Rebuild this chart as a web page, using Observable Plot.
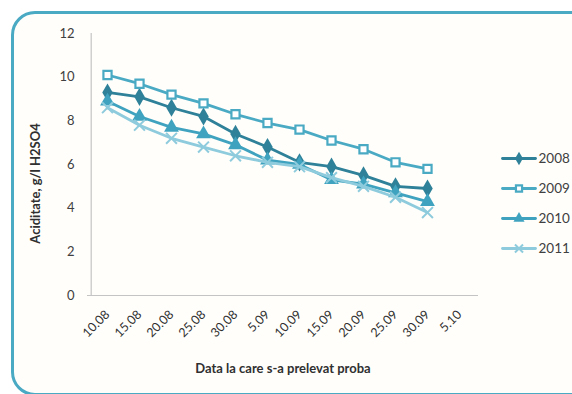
<!DOCTYPE html>
<html>
<head>
<meta charset="utf-8">
<script src="https://cdn.jsdelivr.net/npm/d3@7"></script>
<script src="https://cdn.jsdelivr.net/npm/@observablehq/plot@0.6"></script>
<style>
  body { margin: 0; background: #ffffff; }
  #wrap { position: relative; width: 572px; height: 394px; overflow: hidden; background: #ffffff; font-family: Lato, "Open Sans", sans-serif; }
  #frame { position: absolute; left: 11px; top: 11px; width: 640px; height: 379px; border: 3px solid #4aa9c3; border-radius: 24px; background: #fffefb; }
  #chart { position: absolute; left: 0; top: 0; }
  #legend { position: absolute; left: 500px; top: 143px; }
</style>
</head>
<body>
<div id="wrap">
  <div id="frame"></div>
  <div id="chart"></div>
  <div id="legend"></div>
</div>
<script>
// Sampling dates (the last one has no measurements)
const dates = ["10.08", "15.08", "20.08", "25.08", "30.08", "5.09", "10.09", "15.09", "20.09", "25.09", "30.09", "5.10"];

// Acidity, g/l H2SO4, one array per harvest year
const years = ["2008", "2009", "2010", "2011"];
const acid2008 = [9.3, 9.1, 8.6, 8.2, 7.4, 6.8, 6.1, 5.9, 5.5, 5.0, 4.9];
const acid2009 = [10.1, 9.7, 9.2, 8.8, 8.3, 7.9, 7.6, 7.1, 6.7, 6.1, 5.8];
const acid2010 = [8.9, 8.2, 7.7, 7.4, 6.9, 6.2, 6.0, 5.3, 5.1, 4.7, 4.3];
const acid2011 = [8.6, 7.8, 7.2, 6.8, 6.4, 6.1, 5.9, 5.4, 5.0, 4.5, 3.8];
const yTicks = [0, 2, 4, 6, 8, 10, 12];

const seriesValues = { "2008": acid2008, "2009": acid2009, "2010": acid2010, "2011": acid2011 };

// Per-series look: line colour, marker symbol and marker fill
const style = {
  "2008": { color: "#2e8198", symbol: "diamond", fill: "#2e8198", r: 5.5 },
  "2009": { color: "#4aaac4", symbol: "square", fill: "#ffffff", r: 4.6 },
  "2010": { color: "#3fa3bf", symbol: "triangle", fill: "#3fa3bf", r: 5.5 },
  "2011": { color: "#8ecbdc", symbol: "times", fill: "none", r: 5 }
};

const rows = years.flatMap(year =>
  seriesValues[year].map((v, i) => ({ year, date: dates[i], value: v }))
);

function dotMark(data, xKey, yKey, year, scale) {
  const s = style[year];
  const r = s.r * scale;
  if (s.symbol === "times") {
    return Plot.dot(data, { x: xKey, y: yKey, symbol: "times", r, stroke: s.color, strokeWidth: 2 });
  } else if (s.symbol === "square") {
    return Plot.dot(data, { x: xKey, y: yKey, symbol: "square", r, fill: s.fill, stroke: s.color, strokeWidth: 2.2 });
  }
  return Plot.dot(data, { x: xKey, y: yKey, symbol: s.symbol, r, fill: s.fill, stroke: "none" });
}

const seriesMarks = years.flatMap(year => {
  const d = rows.filter(r => r.year === year);
  return [
    Plot.line(d, { x: "date", y: "value", stroke: style[year].color, strokeWidth: 2.8 }),
    dotMark(d, "date", "value", year, 1)
  ];
});

const chart = Plot.plot({
  width: 572,
  height: 394,
  marginLeft: 87,
  marginRight: 94,
  marginTop: 33,
  marginBottom: 99,
  style: { background: "transparent", fontFamily: "Lato, 'Open Sans', sans-serif", color: "#404040" },
  x: { type: "point", domain: dates, padding: 0.5 },
  y: { domain: [0, 12] },
  marks: [
    Plot.axisY({ ticks: yTicks, tickSize: 0, tickPadding: 13, fontSize: 13, label: "Aciditate, g/l H2SO4", labelArrow: "none", labelAnchor: "center", labelOffset: 57 }),
    Plot.axisX({ tickSize: 0, tickPadding: 17, tickRotate: -45, fontSize: 12.5, label: "Data la care s-a prelevat proba", labelArrow: "none", labelAnchor: "center", labelOffset: 77 }),
    Plot.ruleX([dates[0]], { y1: 0, y2: 12, stroke: "#c4c4c4", strokeWidth: 1.2, dx: -16.3 }),
    Plot.ruleY([0], { stroke: "#c4c4c4", strokeWidth: 1.2 }),
    ...seriesMarks
  ]
});
d3.select(chart).selectAll("[aria-label='y-axis label'] text, [aria-label='x-axis label'] text")
  .style("font-weight", "bold").style("font-size", "13px").attr("fill", "#303030");
// the vertical title sits a little below the middle of the axis
d3.select(chart).selectAll("[aria-label='y-axis label'] text").attr("dx", -19);
d3.select(chart).selectAll("[aria-label='x-axis tick label'] text").attr("fill", "#303030");
document.getElementById("chart").append(chart);

// Legend: a short line sample with the series marker, then the year
const legendRows = years.flatMap(year => [0, 0.5, 1].map(t => ({ year, t })));
const legend = Plot.plot({
  width: 72,
  height: 120,
  marginLeft: 2,
  marginRight: 37,
  marginTop: 15,
  marginBottom: 15,
  style: { background: "transparent", fontFamily: "Lato, 'Open Sans', sans-serif" },
  x: { domain: [0, 1], axis: null },
  y: { type: "point", domain: years, padding: 0, axis: null },
  marks: [
    ...years.map(year => Plot.line(legendRows.filter(r => r.year === year), { x: "t", y: "year", stroke: style[year].color, strokeWidth: 2.8 })),
    ...years.map(year => dotMark(legendRows.filter(r => r.year === year && r.t === 0.5), "t", "year", year, 0.75)),
    Plot.text(years, { x: 1, y: d => d, text: d => d, dx: 3, textAnchor: "start", fontSize: 13.5, fill: "#404040" })
  ]
});
document.getElementById("legend").append(legend);
</script>
</body>
</html>
